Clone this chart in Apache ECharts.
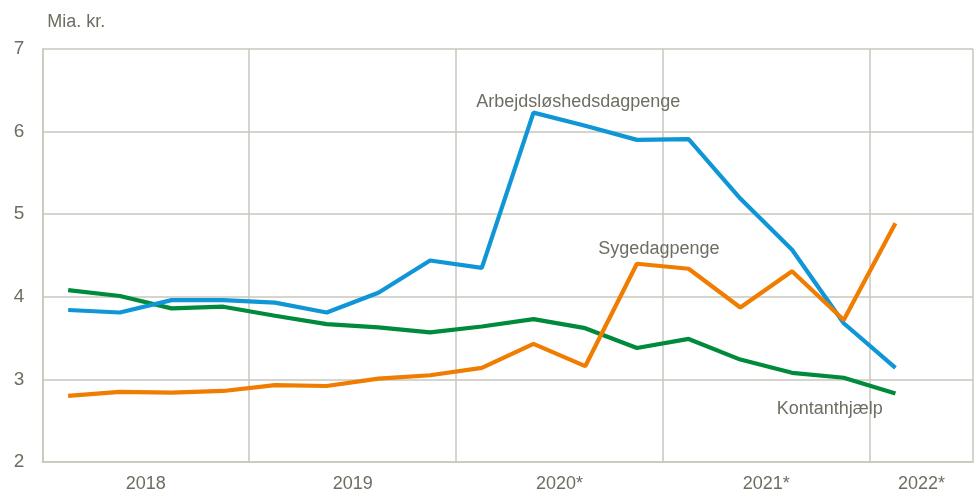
<!DOCTYPE html>
<html>
<head>
<meta charset="utf-8">
<script src="https://cdn.jsdelivr.net/npm/echarts@6/dist/echarts.min.js"></script>
<style>
html,body{margin:0;padding:0;background:#fff;}
#chart{width:974px;height:493px;}
</style>
</head>
<body>
<div id="chart"></div>
<script>
// Quarterly categories (last slot is empty space on the axis)
var quarters = ['2018K1','2018K2','2018K3','2018K4','2019K1','2019K2','2019K3','2019K4',
  '2020K1','2020K2','2020K3','2020K4','2021K1','2021K2','2021K3','2021K4','2022K1','2022K2'];
// Year tick labels, keyed by the quarter they are drawn next to
var yearLabels = {'2018K2':'2018','2019K2':'2019','2020K2':'2020*','2021K2':'2021*','2022K1':'2022*'};
var yTicks = [2,3,4,5,6,7];

var arbejdsloeshed = [3.84,3.81,3.96,3.96,3.93,3.81,4.05,4.44,4.35,6.23,6.07,5.90,5.91,5.19,4.57,3.68,3.14];
var sygedagpenge   = [2.80,2.85,2.84,2.86,2.93,2.92,3.01,3.05,3.14,3.43,3.16,4.40,4.34,3.87,4.31,3.72,4.89];
var kontanthjaelp  = [4.08,4.01,3.86,3.88,3.77,3.67,3.63,3.57,3.64,3.73,3.62,3.38,3.49,3.24,3.08,3.02,2.83];

var seriesNames = ['Arbejdsløshedsdagpenge','Sygedagpenge','Kontanthjælp'];

var FONT = '"Liberation Sans", Arial, sans-serif';
var FS = 18;
var TXT = '#6e6d62';
var GRID = '#c9c7bd';

function withLabel(values, idx, text, offset) {
  return values.map(function (v, i) {
    if (i !== idx) return v;
    return {
      value: v,
      label: {
        show: true, formatter: text, position: 'inside', offset: offset,
        align: 'center', verticalAlign: 'middle',
        fontFamily: FONT, fontSize: FS, color: TXT
      }
    };
  });
}

var chart = echarts.init(document.getElementById('chart'), null, {renderer: 'canvas'});
chart.setOption({
  animation: false,
  backgroundColor: '#fff',
  grid: {left: 42.3, right: 1, top: 49, bottom: 30, containLabel: false},
  xAxis: {
    type: 'category',
    data: quarters,
    boundaryGap: true,
    axisLine: {show: true, lineStyle: {color: GRID, width: 1.5}},
    axisTick: {show: false},
    splitLine: {show: true, interval: function (i) { return i % 4 === 0; }, lineStyle: {color: GRID, width: 1.5}},
    axisLabel: {
      interval: function (i, v) { return yearLabels[v] !== undefined; },
      formatter: function (v) { return yearLabels[v] || ''; },
      fontFamily: FONT, fontSize: FS, color: TXT,
      margin: 13, padding: [0, 0, 0, 52]
    }
  },
  yAxis: {
    type: 'value', min: yTicks[0], max: yTicks[yTicks.length - 1], interval: 1,
    name: 'Mia. kr.',
    nameLocation: 'end', nameGap: 27,
    nameTextStyle: {fontFamily: FONT, fontSize: FS, color: TXT, align: 'left', verticalAlign: 'middle', padding: [0, 0, 0, 5]},
    axisLine: {show: true, lineStyle: {color: GRID, width: 1.5}},
    axisTick: {show: false},
    splitLine: {show: true, lineStyle: {color: GRID, width: 1.5}},
    axisLabel: {fontFamily: FONT, fontSize: FS + 1, color: TXT, margin: 18}
  },
  series: [
    {
      name: seriesNames[0], type: 'line',
      data: withLabel(arbejdsloeshed, 10, seriesNames[0], [-7, -24]),
      symbol: 'circle', symbolSize: 0, showSymbol: true,
      lineStyle: {color: '#0f96d6', width: 4.2}, itemStyle: {color: '#0f96d6'},
      z: 3
    },
    {
      name: seriesNames[1], type: 'line',
      data: withLabel(sygedagpenge, 11, seriesNames[1], [22, -15]),
      symbol: 'circle', symbolSize: 0, showSymbol: true,
      lineStyle: {color: '#f07c00', width: 4.2}, itemStyle: {color: '#f07c00'},
      z: 4
    },
    {
      name: seriesNames[2], type: 'line',
      data: withLabel(kontanthjaelp, 15, seriesNames[2], [-14, 31]),
      symbol: 'circle', symbolSize: 0, showSymbol: true,
      lineStyle: {color: '#008a3c', width: 4.2}, itemStyle: {color: '#008a3c'},
      z: 2
    }
  ]
});
</script>
</body>
</html>
